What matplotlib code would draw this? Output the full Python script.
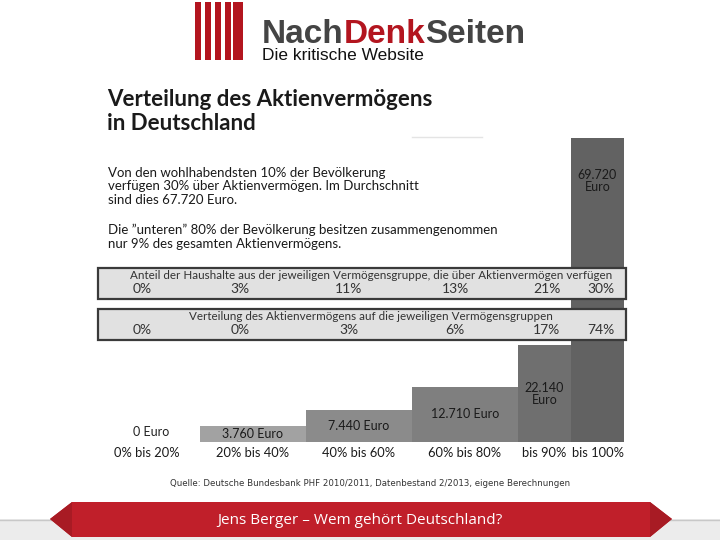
import matplotlib
matplotlib.use('Agg')
import matplotlib.pyplot as plt
from matplotlib.patches import Rectangle, Polygon

# data
groups = ['0% bis 20%', '20% bis 40%', '40% bis 60%', '60% bis 80%', 'bis 90%', 'bis 100%']
lower_pct = [0, 20, 40, 60, 80, 90]
upper_pct = [20, 40, 60, 80, 90, 100]
avg_euro = [0, 3760, 7440, 12710, 22140, 69720]
euro_labels = ['0 Euro', '3.760 Euro', '7.440 Euro', '12.710 Euro', '22.140\nEuro', '69.720\nEuro']
share_households = [0, 3, 11, 13, 21, 30]
share_wealth = [0, 0, 3, 6, 17, 74]

bar_colors = ['#b0b0b0', '#a2a2a2', '#8b8b8b', '#7f7f7f', '#6f6f6f', '#626262']
band_shift = [-5, -13, -10, -10, 2, 3]   # pixel nudge of the band numbers

plt.rcParams['font.family'] = ['Lato', 'DejaVu Sans']

fig = plt.figure(figsize=(7.2, 5.4), dpi=100)
fig.patch.set_facecolor('white')

# bar axes: percentiles on x, euro on y
ax = fig.add_axes([94 / 720, (540 - 442) / 540, 530 / 720, 304 / 540])
ax.set_xlim(0, 100)
ax.set_ylim(0, max(avg_euro))
ax.axis('off')
widths = [u - l for l, u in zip(lower_pct, upper_pct)]
ax.bar(lower_pct, avg_euro, width=widths, align='edge', color=bar_colors, linewidth=0)

centers = [l + w / 2 for l, w in zip(lower_pct, widths)]
for c, v, lab in zip(centers, avg_euro, euro_labels):
    if v == 0:
        ax.annotate(lab, (c, 0), xytext=(3, 3), textcoords='offset points',
                    ha='center', va='bottom', fontsize=9, color='#222222')
    elif v == max(avg_euro):
        ax.annotate(lab, (c, v), xytext=(0, -31), textcoords='offset points',
                    ha='center', va='center', fontsize=9, color='#1a1a1a', linespacing=1.0)
    else:
        ax.text(c, v / 2, lab, ha='center', va='center', fontsize=9,
                color='#1a1a1a', linespacing=1.0)

# overlay in pixel coordinates for all the decoration
ov = fig.add_axes([0, 0, 1, 1], zorder=5)
ov.set_xlim(0, 720)
ov.set_ylim(540, 0)
ov.axis('off')
ov.patch.set_visible(False)


def px(pct):
    return ax.transData.transform((pct, 0))[0] * 720 / fig.bbox.width


for c, g in zip(centers, groups):
    ov.text(px(c), 453, g, ha='center', va='center', fontsize=9.3, color='#1a1a1a')

# info bands
bands = [(268, 'Anteil der Haushalte aus der jeweiligen Vermögensgruppe, die über Aktienvermögen verfügen', share_households),
         (309, 'Verteilung des Aktienvermögens auf die jeweiligen Vermögensgruppen', share_wealth)]
for top, head, vals in bands:
    ov.add_patch(Rectangle((98, top), 528, 31, facecolor='#e1e1e1', edgecolor='#3a3a3a', lw=1.6))
    ov.text(371, top + 7.5, head, ha='center', va='center', fontsize=8.4, color='#333333')
    for c, s, v in zip(centers, band_shift, vals):
        ov.text(px(c) + s, top + 21, f'{v}%', ha='center', va='center', fontsize=10, color='#333333')

# logo
for x0, w in [(195, 5.5), (205, 5.5), (215, 5.5), (225, 5.5), (233, 10)]:
    ov.add_patch(Rectangle((x0, 2), w, 58, color='#b3151f', lw=0))
t1 = ov.text(262, 43, 'Nach', fontsize=24, weight='bold', color='#444444',
             family='Liberation Sans', va='baseline')
t2 = ov.annotate('Denk', xy=(1, 0), xycoords=t1, fontsize=24, weight='bold',
                 color='#b3151f', family='Liberation Sans', va='bottom')
ov.annotate('Seiten', xy=(1, 0), xycoords=t2, fontsize=24, weight='bold',
            color='#444444', family='Liberation Sans', va='bottom')
ov.text(262, 60, 'Die kritische Website', fontsize=12.5, color='#111111',
        family='Liberation Sans', va='baseline')

# title and body text
ov.text(107, 89, 'Verteilung des Aktienvermögens\nin Deutschland', fontsize=16,
        weight='bold', color='#1a1a1a', va='top', linespacing=1.15)
ov.plot([412, 482], [137, 137], color='#e4e4e4', lw=1)
ov.text(108, 167, 'Von den wohlhabendsten 10% der Bevölkerung\n'
        'verfügen 30% über Aktienvermögen. Im Durchschnitt\n'
        'sind dies 67.720 Euro.', fontsize=9.5, color='#1a1a1a', va='top', linespacing=1.15)
ov.text(108, 224, 'Die \u201dunteren\u201d 80% der Bevölkerung besitzen zusammengenommen\n'
        'nur 9% des gesamten Aktienvermögens.', fontsize=9.5, color='#1a1a1a', va='top', linespacing=1.15)

ov.text(370, 483, 'Quelle: Deutsche Bundesbank PHF 2010/2011, Datenbestand 2/2013, eigene Berechnungen',
        ha='center', va='center', fontsize=6.2, color='#333333', family='Liberation Sans Narrow')

# footer banner
ov.add_patch(Rectangle((0, 519), 720, 21, facecolor='#ececec', lw=0, zorder=1))
ov.plot([0, 720], [519.5, 519.5], color='#c8c8c8', lw=1, zorder=1.5)
ov.add_patch(Polygon([(50, 519), (72, 502), (650, 502), (672, 519), (650, 537), (72, 537)],
                     closed=True, facecolor='#c01f2a', lw=0, zorder=2))
ov.add_patch(Polygon([(50, 519), (72, 502), (72, 537)], closed=True, facecolor='#a81b24', lw=0, zorder=2))
ov.add_patch(Polygon([(672, 519), (650, 502), (650, 537)], closed=True, facecolor='#a81b24', lw=0, zorder=2))
ov.text(360, 520, 'Jens Berger \u2013 Wem gehört Deutschland?', ha='center', va='center',
        fontsize=11, color='white', family=['Open Sans', 'DejaVu Sans'], zorder=3)

fig.savefig('out.png', dpi=100)
